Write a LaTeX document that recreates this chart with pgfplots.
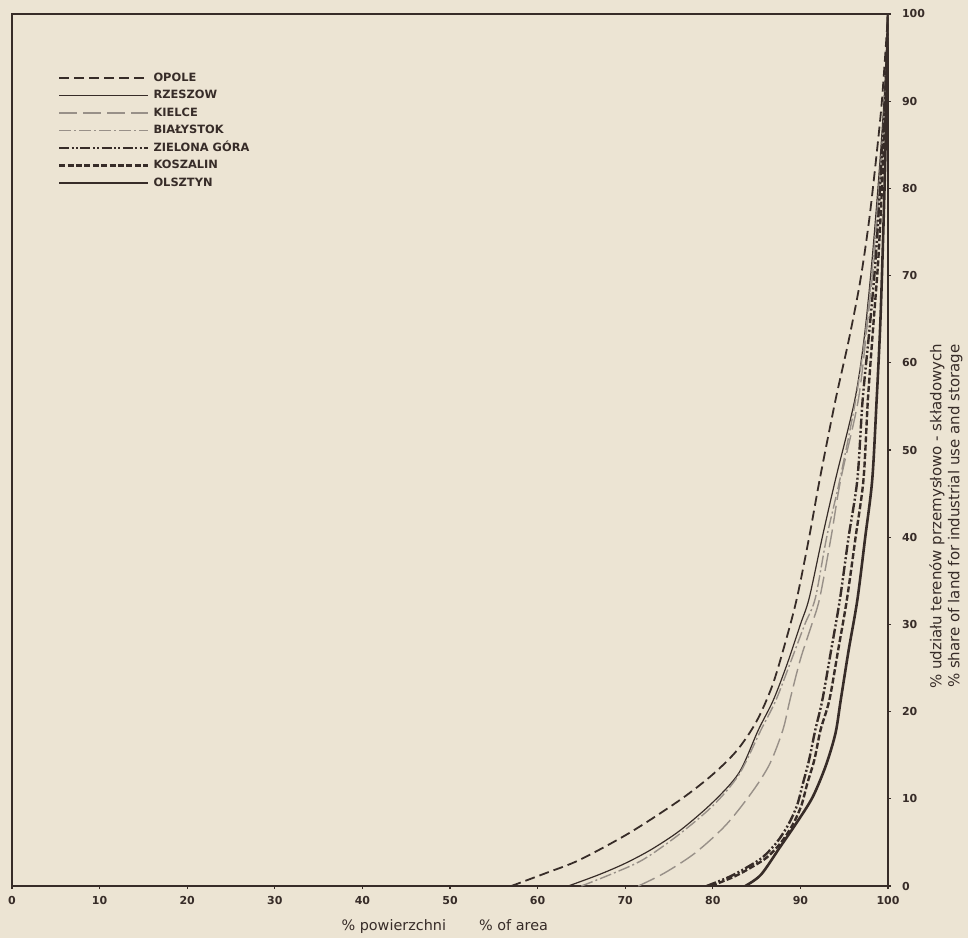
\documentclass[border=0pt]{standalone}
\usepackage{pgfplots}
\pgfplotsset{compat=1.18}
\usepackage{fontspec}
\setmainfont{DejaVu Sans}
\definecolor{bg}{RGB}{236,228,211}
\definecolor{ink}{RGB}{55,44,40}
\definecolor{lgrey}{RGB}{152,144,136}
\begin{document}
\begin{tikzpicture}
\fill[bg] (-6pt,-26pt) rectangle (478pt,443pt);
\begin{axis}[
  at={(0pt,0pt)}, anchor=south west,
  scale only axis, width=438pt, height=436pt,
  xmin=0, xmax=100, ymin=0, ymax=100,
  xtick={0,10,...,100}, ytick={0,10,...,100},
  xtick pos=left, ytick pos=right,
  yticklabel pos=right,
  tick align=outside, major tick length=1.5pt,
  axis line style={ink, line width=1.2pt},
  every tick/.style={ink, line width=0.6pt},
  tick label style={font=\fontsize{5.5}{6}\selectfont\bfseries, text=ink},
  yticklabel style={xshift=2pt},
  /pgf/number format/assume math mode=true,
  xlabel={\% powierzchni\hspace{2.3em}\% of area},
  every axis x label/.style={at={(axis description cs:0.494,-0.046)}, anchor=center, font=\fontsize{7.2}{8}\selectfont, text=ink},
  ylabel={\% udziału terenów przemysłowo - składowych\\\% share of land for industrial use and storage},
  every axis y label/.style={at={(axis description cs:1.066,0.424)}, rotate=90, anchor=center, align=center, font=\fontsize{7.5}{9}\selectfont, text=ink},
  legend cell align=left,
  legend image code/.code={\draw[#1] (0pt,0pt) -- (44.5pt,0pt);},
  legend style={at={(axis description cs:0.052,0.937)}, anchor=north west, draw=none, fill=none,
    font=\fontsize{5.7}{6}\selectfont\bfseries, text=ink, inner sep=0pt,
    nodes={inner ysep=1.375pt, text height=4.5pt, text depth=1.5pt},
    /tikz/every even column/.append style={column sep=5pt}},
]
\addplot[ink, line width=0.9pt, dash pattern=on 5pt off 2.5pt, smooth] coordinates {
(57,0) (61,1.5) (64.8,3.0) (70.5,6.1) (76.3,9.9) (80,12.8) (82.8,15.6) (85,18.9) (86.8,23) (88.3,28) (89.6,33) (91,40) (92.2,46.6) (94,55.7) (95.5,62.5) (96.8,69.2) (97.8,76) (98.6,83) (99.3,90) (100,100)};
\addlegendentry{OPOLE}
\addplot[ink, line width=0.6pt, smooth] coordinates {
(63.5,0) (67,1.3) (70,2.6) (73,4.2) (76.3,6.4) (80,9.6) (83,13) (85.2,17.9) (86.9,21.3) (88.5,25.5) (90,30) (91,33) (92.5,40) (94,46.6) (96.2,55.7) (97.3,63) (98.2,72) (99,82) (99.6,91) (100,100)};
\addlegendentry{RZESZOW}
\addplot[lgrey, line width=0.7pt, dash pattern=on 9pt off 3pt, smooth] coordinates {
(71.5,0) (74.5,1.5) (78,3.8) (81.5,7) (84.5,10.8) (86.5,14) (88,17.9) (88.8,21.3) (90,26) (91.3,30) (92.2,33) (93.5,40) (94.6,46.6) (96.6,55.7) (97.7,65) (98.6,74) (99.3,84) (99.8,92) (100,100)};
\addlegendentry{KIELCE}
\addplot[lgrey, line width=0.7pt, dash pattern=on 6pt off 1.5pt on 1pt off 1.5pt, smooth] coordinates {
(65,0) (68.5,1.4) (72,3.0) (76,5.8) (80,9.2) (83,12.8) (85.5,17.9) (87.2,21.3) (89,26) (90.5,30) (91.7,33) (93,40) (94.5,46.6) (96.3,55.7) (97.5,64) (98.4,73) (99.1,82) (99.7,91) (100,100)};
\addlegendentry{BIAŁYSTOK}
\addplot[ink, line width=1.2pt, dash pattern=on 5pt off 1.2pt on 1pt off 1.2pt on 1pt off 1.2pt, smooth] coordinates {
(79.3,0) (82,1.1) (84,2.2) (85.7,3.3) (87.3,5) (88.6,7) (89.6,9.2) (90.3,11.8) (91,14.5) (91.7,17.9) (92.5,21.3) (93.5,27) (94.5,32.8) (95.5,40) (96.5,46.6) (97.1,55.7) (97.9,64) (98.6,72) (99.2,82) (99.7,91) (100,100)};
\addlegendentry{ZIELONA GÓRA}
\addplot[ink, line width=1.2pt, dash pattern=on 3pt off 1.2pt, smooth] coordinates {
(79.8,0) (82.5,1.1) (84.5,2.2) (86.2,3.3) (87.8,5) (89.1,7) (90.1,9.2) (90.8,11.8) (91.6,14.5) (92.3,17.9) (93.3,21.3) (94.3,27) (95.3,32.8) (96.3,40) (97.2,46.6) (97.7,55.7) (98.3,64) (98.9,72) (99.4,82) (99.8,91) (100,100)};
\addlegendentry{KOSZALIN}
\addplot[ink, line width=1.3pt, smooth] coordinates {
(83.7,0) (85.5,1.3) (87.7,4.5) (89.6,7.3) (91.4,10.2) (92.9,13.8) (94,17.5) (94.6,21.3) (95.5,27) (96.5,32.8) (97.4,40) (98.2,46.6) (98.7,55.7) (99.1,64) (99.4,73) (99.7,84) (100,100)};
\addlegendentry{OLSZTYN}
\end{axis}
\pgfresetboundingbox
\path (-6pt,-26pt) rectangle (478pt,443pt);
\end{tikzpicture}
\end{document}
